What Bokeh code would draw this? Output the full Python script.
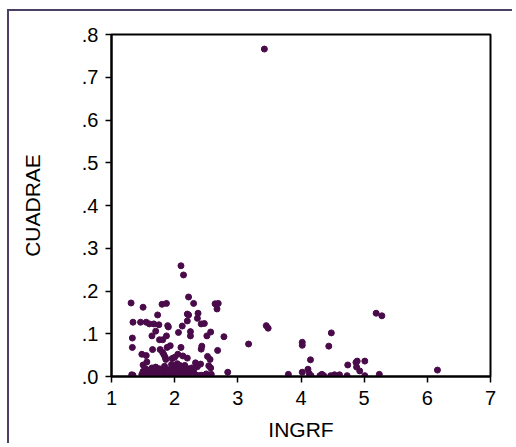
from bokeh.plotting import figure
from bokeh.models import Range1d, FixedTicker, CustomJSTickFormatter
from bokeh.embed import file_html
from bokeh.resources import INLINE

# INGRF values
ingrf = [
    3.42, 2.10, 2.14, 2.22, 2.30, 1.31, 1.50, 1.80, 1.87, 1.73,
    2.64, 2.69, 2.67, 2.20, 2.22, 2.37, 2.36, 2.20, 2.42, 2.47,
    2.12, 1.34, 1.46, 1.55, 1.60, 1.67, 1.75, 1.89, 1.90, 1.33,
    1.70, 1.64, 1.76, 1.81, 1.87, 2.06, 2.25, 2.25, 2.51, 2.57,
    2.78, 3.45, 3.48, 3.17, 5.19, 5.28, 4.48, 4.02, 4.02, 4.44,
    4.15, 4.74, 4.89, 4.87, 5.01, 4.88, 4.93, 6.16, 3.80, 4.02,
    4.11, 4.13, 4.16, 4.30, 4.33, 4.36, 4.47, 4.53, 4.61, 4.73,
    5.01, 5.24, 2.84,
    1.33, 1.65, 1.77, 1.81, 1.83, 1.85, 1.86, 1.93, 1.88, 1.96,
    2.00, 2.05, 2.10, 2.13, 2.20, 2.42, 2.43, 2.68, 1.48, 1.55,
    1.56, 1.50, 2.52, 2.56, 2.33, 2.41, 2.36, 2.54, 2.57, 1.34, 1.32,
    1.48, 1.50, 1.52, 1.54, 1.56, 1.58, 1.60, 1.62, 1.64, 1.66,
    1.68, 1.70, 1.72, 1.74, 1.76, 1.78, 1.80, 1.82, 1.84, 1.86,
    1.88, 1.90, 1.92, 1.95, 1.98, 2.00, 2.02, 2.04, 2.06, 2.08,
    2.10, 2.12, 2.14, 2.16, 2.18, 2.20, 2.22, 2.24, 2.27, 2.30,
    2.33, 2.38, 2.42, 2.46, 2.50, 2.55, 2.58, 1.70, 1.76, 1.86,
    2.03, 2.12, 2.22, 1.65, 1.95, 2.08,
]

# CUADRAE values
cuadrae = [
    0.766, 0.259, 0.2375, 0.186, 0.171, 0.172, 0.162, 0.169, 0.171, 0.144,
    0.170, 0.171, 0.158, 0.146, 0.144, 0.148, 0.136, 0.130, 0.123, 0.124,
    0.118, 0.127, 0.127, 0.127, 0.123, 0.123, 0.121, 0.119, 0.116, 0.090,
    0.106, 0.095, 0.086, 0.086, 0.095, 0.103, 0.105, 0.095, 0.095, 0.104,
    0.093, 0.119, 0.113, 0.076, 0.148, 0.142, 0.102, 0.080, 0.073, 0.071,
    0.039, 0.027, 0.036, 0.033, 0.036, 0.022, 0.013, 0.015, 0.005, 0.010,
    0.017, 0.007, 0.002, 0.002, 0.005, 0.002, 0.002, 0.004, 0.004, 0.002,
    0.002, 0.005, 0.010,
    0.068, 0.063, 0.063, 0.056, 0.051, 0.045, 0.040, 0.072, 0.068, 0.042,
    0.045, 0.052, 0.068, 0.048, 0.043, 0.064, 0.071, 0.061, 0.052, 0.049,
    0.034, 0.027, 0.047, 0.040, 0.032, 0.029, 0.023, 0.025, 0.020, 0.003, 0.004,
    0.005, 0.012, 0.002, 0.018, 0.008, 0.003, 0.015, 0.006, 0.020, 0.010,
    0.002, 0.022, 0.012, 0.005, 0.018, 0.008, 0.014, 0.003, 0.024, 0.010,
    0.005, 0.016, 0.002, 0.012, 0.025, 0.006, 0.018, 0.030, 0.010, 0.003,
    0.022, 0.014, 0.006, 0.026, 0.011, 0.003, 0.018, 0.008, 0.020, 0.014,
    0.004, 0.002, 0.003, 0.002, 0.006, 0.003, 0.005, 0.003, 0.002, 0.002,
    0.002, 0.002, 0.002, 0.016, 0.028, 0.026,
]

x_ticks = [1, 2, 3, 4, 5, 6, 7]
y_ticks = [0.0, 0.1, 0.2, 0.3, 0.4, 0.5, 0.6, 0.7, 0.8]

FONT = "Liberation Sans"

p = figure(
    width=505, height=434,
    output_backend="svg", toolbar_location=None,
    x_range=Range1d(1, 7), y_range=Range1d(0, 0.8),
    min_border_left=102, min_border_right=24, min_border_top=23, min_border_bottom=69,
    x_axis_label="INGRF", y_axis_label="CUADRAE",
)
p.styles = {
    "margin-left": "7px", "margin-top": "9px",
    "border-left": "2px solid #4b3f63", "border-top": "2px solid #4b3f63",
}

p.grid.visible = False
p.outline_line_color = "black"
p.outline_line_width = 2
p.outline_line_alpha = 1

p.xaxis.ticker = FixedTicker(ticks=x_ticks)
p.yaxis.ticker = FixedTicker(ticks=y_ticks)
p.yaxis.formatter = CustomJSTickFormatter(code="return tick.toFixed(1).replace(/^0/, '');")

for ax in (p.xaxis, p.yaxis):
    ax.axis_line_color = "black"
    ax.axis_line_width = 2
    ax.major_tick_line_color = "black"
    ax.major_tick_line_width = 1.5
    ax.major_tick_out = 6
    ax.major_tick_in = 0
    ax.minor_tick_line_color = None
    ax.major_label_text_font = FONT
    ax.major_label_text_font_size = "20px"
    ax.major_label_text_color = "black"
    ax.axis_label_text_font = FONT
    ax.axis_label_text_font_size = "21px"
    ax.axis_label_text_font_style = "normal"
    ax.axis_label_text_color = "black"

p.xaxis.major_label_standoff = 8
p.yaxis.major_label_standoff = 7
p.xaxis.axis_label_standoff = 10
p.yaxis.axis_label_standoff = 35

p.scatter(ingrf, cuadrae, size=6, color="#4a0b4a", line_color="#4a0b4a")

open("out.html", "w").write(file_html(p, INLINE))
